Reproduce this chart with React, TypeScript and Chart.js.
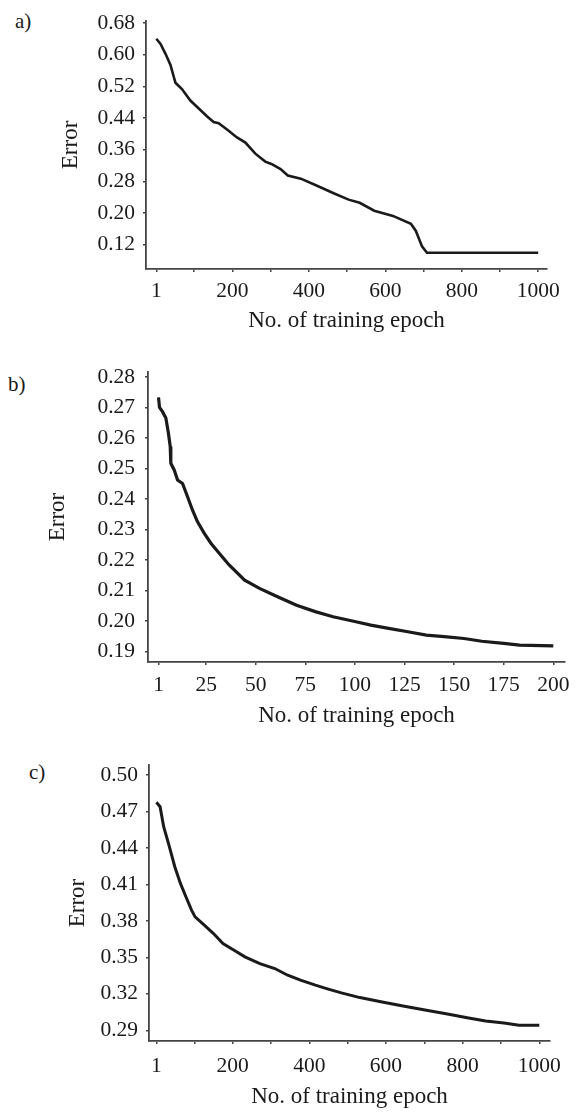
import { useEffect, useRef } from 'react';
import { Chart, registerables } from 'chart.js';

Chart.register(...registerables);

// panel a) 1000 epochs
const epochsA = [1, 12, 25, 38, 46, 51, 68, 90, 112, 134, 151, 164, 186, 212, 234, 260, 286, 302, 326, 345, 379, 417, 465, 504, 533, 571, 620, 667, 680, 696, 709, 1000];
const errorA = [0.64, 0.627, 0.602, 0.574, 0.546, 0.529, 0.513, 0.484, 0.464, 0.444, 0.43, 0.427, 0.411, 0.391, 0.378, 0.35, 0.33, 0.324, 0.311, 0.295, 0.287, 0.271, 0.25, 0.234, 0.226, 0.206, 0.193, 0.173, 0.155, 0.116, 0.1, 0.1];
const xTicksA = [1, 100, 200, 300, 400, 500, 600, 700, 800, 900, 1000];
const xLabelsA = [1, 200, 400, 600, 800, 1000];
const yTicksA = [0.12, 0.2, 0.28, 0.36, 0.44, 0.52, 0.6, 0.68];

// panel b) 200 epochs
const epochsB = [1, 1.5, 3, 4.7, 6, 6.9, 7.2, 8.9, 10.6, 13.1, 15.6, 18.1, 20.6, 24, 27.4, 31.6, 36.6, 44.4, 51.9, 61, 70.6, 80, 89, 100.5, 108, 117, 126.7, 136, 145, 155, 164, 175, 183, 200];
const errorB = [0.2733, 0.27, 0.2686, 0.2665, 0.2615, 0.2572, 0.2517, 0.2495, 0.2462, 0.2451, 0.2408, 0.2364, 0.2326, 0.2288, 0.2255, 0.2222, 0.2184, 0.2134, 0.2107, 0.208, 0.2052, 0.2031, 0.2014, 0.1998, 0.1987, 0.1976, 0.1965, 0.1954, 0.1949, 0.1943, 0.1934, 0.1927, 0.1921, 0.1919];
const xTicksB = [1, 25, 50, 75, 100, 125, 150, 175, 200];
const xLabelsB = [1, 25, 50, 75, 100, 125, 150, 175, 200];
const yTicksB = [0.19, 0.2, 0.21, 0.22, 0.23, 0.24, 0.25, 0.26, 0.27, 0.28];

// panel c) 1000 epochs
const epochsC = [1, 10.6, 20, 34.8, 49, 63.7, 78, 92.7, 102, 126, 150, 174.7, 203.7, 232, 271, 310, 343.6, 377, 416, 445, 483.6, 532, 590, 648, 705.6, 764, 812, 860, 908, 947, 1000];
const errorC = [0.4775, 0.4739, 0.4575, 0.441, 0.4245, 0.4108, 0.3998, 0.3888, 0.3833, 0.3765, 0.3696, 0.3614, 0.3559, 0.3504, 0.3449, 0.3408, 0.3353, 0.3312, 0.3271, 0.3243, 0.3208, 0.3169, 0.3133, 0.3098, 0.3065, 0.3032, 0.3004, 0.2977, 0.296, 0.2941, 0.2941];
const xTicksC = [1, 100, 200, 300, 400, 500, 600, 700, 800, 900, 1000];
const xLabelsC = [1, 200, 400, 600, 800, 1000];
const yTicksC = [0.29, 0.32, 0.35, 0.38, 0.41, 0.44, 0.47, 0.5];

const FONT = "'Liberation Serif', 'Times New Roman', serif";
const INK = '#1a1a1a';
const AXIS = '#444';

type PanelProps = {
  tag: string;
  tagLeft: number;
  tagTop: number;
  top: number;
  height: number;
  epochs: number[];
  errors: number[];
  xMin: number;
  xMax: number;
  yMin: number;
  yMax: number;
  xTicks: number[];
  xLabels: number[];
  yTicks: number[];
  pad: { left: number; right: number; top: number; bottom: number };
  yWidth: number;
  xHeight: number;
  xTickPad: number;
  yTickPad: number;
  tickSize: number;
  lineWidth: number;
};

const Panel = (p: PanelProps) => {
  const canvasRef = useRef<HTMLCanvasElement | null>(null);

  useEffect(() => {
    if (!canvasRef.current) return;
    const chart = new Chart(canvasRef.current, {
      type: 'line',
      data: {
        datasets: [
          {
            data: p.epochs.map((e, i) => ({ x: e, y: p.errors[i] })),
            borderColor: INK,
            borderWidth: p.lineWidth,
            pointRadius: 0,
            tension: 0,
            fill: false,
          },
        ],
      },
      options: {
        animation: false,
        responsive: false,
        events: [],
        layout: { padding: p.pad },
        plugins: { legend: { display: false }, tooltip: { enabled: false } },
        scales: {
          x: {
            type: 'linear',
            min: p.xMin,
            max: p.xMax,
            afterBuildTicks: (s: any) => {
              s.ticks = p.xTicks.map((v) => ({ value: v }));
            },
            afterFit: (s: any) => {
              s.height = p.xHeight;
            },
            ticks: {
              autoSkip: false,
              maxRotation: 0,
              padding: p.xTickPad,
              color: INK,
              font: { family: FONT, size: p.tickSize },
              callback: (v: any) => (p.xLabels.includes(Number(v)) ? String(v) : ''),
            },
            grid: { drawOnChartArea: false, drawTicks: true, tickLength: 3, color: AXIS, lineWidth: 1.5 },
            border: { display: true, color: AXIS, width: 1.8 },
            title: {
              display: true,
              text: 'No. of training epoch',
              color: INK,
              padding: 0,
              font: { family: FONT, size: 23 },
            },
          },
          y: {
            type: 'linear',
            min: p.yMin,
            max: p.yMax,
            afterBuildTicks: (s: any) => {
              s.ticks = p.yTicks.map((v) => ({ value: v }));
            },
            afterFit: (s: any) => {
              s.width = p.yWidth;
            },
            ticks: {
              padding: p.yTickPad,
              color: INK,
              font: { family: FONT, size: p.tickSize },
              callback: (v: any) => Number(v).toFixed(2),
            },
            grid: { drawOnChartArea: false, drawTicks: true, tickLength: 3, color: AXIS, lineWidth: 1.5 },
            border: { display: true, color: AXIS, width: 1.8 },
            title: {
              display: true,
              text: 'Error',
              color: INK,
              padding: 0,
              font: { family: FONT, size: 23 },
            },
          },
        },
      },
    });
    return () => chart.destroy();
  }, []);

  return (
    <>
      <div
        style={{
          position: 'absolute',
          left: p.tagLeft,
          top: p.tagTop,
          fontFamily: FONT,
          fontSize: 21,
          lineHeight: 1,
          color: INK,
        }}
      >
        {p.tag}
      </div>
      <canvas
        ref={canvasRef}
        width={581}
        height={p.height}
        style={{ position: 'absolute', left: 0, top: p.top, width: 581, height: p.height }}
      />
    </>
  );
};

export default function App() {
  return (
    <div style={{ position: 'absolute', left: 0, top: 0, width: 581, height: 1113, background: '#fff' }}>
      <Panel
        tag="a)"
        tagLeft={15}
        tagTop={11}
        top={0}
        height={340}
        epochs={epochsA}
        errors={errorA}
        xMin={-26}
        xMax={1023}
        yMin={0.059}
        yMax={0.685}
        xTicks={xTicksA}
        xLabels={xLabelsA}
        yTicks={yTicksA}
        pad={{ left: 57, right: 34, top: 13, bottom: 5 }}
        yWidth={89}
        xHeight={66}
        xTickPad={6}
        yTickPad={8}
        tickSize={21.5}
        lineWidth={2.6}
      />
      <Panel
        tag="b)"
        tagLeft={8}
        tagTop={374}
        top={345}
        height={395}
        epochs={epochsB}
        errors={errorB}
        xMin={-4.3}
        xMax={205.9}
        yMin={0.1866}
        yMax={0.2816}
        xTicks={xTicksB}
        xLabels={xLabelsB}
        yTicks={yTicksB}
        pad={{ left: 44, right: 16, top: 27, bottom: 10 }}
        yWidth={104}
        xHeight={68}
        xTickPad={7}
        yTickPad={10}
        tickSize={21.5}
        lineWidth={3.2}
      />
      <Panel
        tag="c)"
        tagLeft={29}
        tagTop={762}
        top={740}
        height={373}
        epochs={epochsC}
        errors={errorC}
        xMin={-18.3}
        xMax={1028}
        yMin={0.2812}
        yMax={0.5082}
        xTicks={xTicksC}
        xLabels={xLabelsC}
        yTicks={yTicksC}
        pad={{ left: 64, right: 31, top: 25, bottom: 2 }}
        yWidth={85}
        xHeight={70}
        xTickPad={9}
        yTickPad={8}
        tickSize={21.5}
        lineWidth={3}
      />
    </div>
  );
}
